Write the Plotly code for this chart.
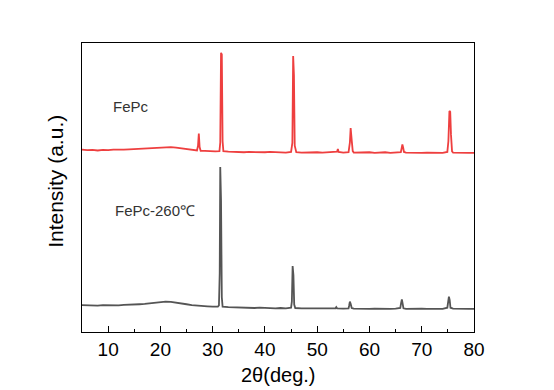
import plotly.graph_objects as go

# FePc (red) pattern: 2theta (deg) and intensity (a.u., offset)
fepc_2theta = [5.0, 6.0, 7.0, 8.0, 9.0, 10.0, 11.0, 12.0, 13.0, 14.0, 15.0, 16.0, 17.0, 18.0,
               19.0, 20.0, 21.0, 22.0, 23.0, 24.0, 25.0, 26.0, 27.0, 27.2, 27.35, 27.5, 27.7,
               28.5, 29.5, 30.5, 31.3, 31.45, 31.6, 31.75, 31.9, 32.05, 33.0, 34.0, 35.0, 36.0,
               37.0, 38.0, 39.0, 40.0, 41.0, 42.0, 43.0, 44.0, 45.0, 45.25, 45.4, 45.55, 45.7,
               45.85, 46.0, 47.0, 48.0, 49.0, 50.0, 51.0, 52.0, 53.0, 53.8, 53.95, 54.1, 55.0,
               56.0, 56.25, 56.4, 56.6, 56.8, 57.0, 58.0, 59.0, 60.0, 61.0, 62.0, 63.0, 64.0,
               65.0, 66.0, 66.15, 66.3, 66.45, 66.6, 67.0, 68.0, 69.0, 70.0, 71.0, 72.0, 73.0,
               74.0, 74.9, 75.1, 75.3, 75.45, 75.6, 75.8, 76.0, 77.0, 78.0, 79.0, 80.0]
fepc_int = [63.1, 62.9, 63.0, 62.8, 63.0, 62.9, 63.1, 63.0, 63.1, 63.2, 63.3, 63.4, 63.5, 63.7,
            63.9, 64.0, 64.1, 64.0, 63.8, 63.5, 63.2, 62.9, 62.8, 64.5, 68.7, 64.0, 62.7,
            62.7, 62.5, 62.5, 62.6, 65.5, 96.6, 96.0, 66.0, 62.6, 62.4, 62.3, 62.4, 62.2,
            62.3, 62.2, 62.3, 62.2, 62.3, 62.2, 62.2, 62.1, 62.3, 65.4, 95.5, 88.9, 64.5,
            62.4, 62.2, 62.1, 62.2, 62.1, 62.2, 62.1, 62.2, 62.1, 62.4, 63.3, 62.3, 62.1,
            62.2, 65.5, 70.6, 66.4, 62.6, 62.1, 62.2, 62.1, 62.2, 62.0, 62.1, 62.2, 62.0,
            62.1, 62.2, 63.5, 64.9, 63.8, 62.3, 62.1, 62.0, 62.1, 62.0, 62.1, 62.0, 62.1,
            62.0, 62.3, 66.0, 76.5, 76.2, 68.2, 62.5, 62.1, 62.0, 62.1, 62.0, 62.0]

# FePc-260 C (dark grey) pattern
fepc260_2theta = [5.0, 6.0, 7.0, 8.0, 9.0, 10.0, 11.0, 12.0, 13.0, 14.0, 15.0, 16.0, 17.0, 18.0,
                  19.0, 20.0, 21.0, 22.0, 23.0, 24.0, 25.0, 26.0, 27.0, 28.0, 29.0, 30.0, 31.0,
                  31.2, 31.35, 31.45, 31.6, 31.75, 31.9, 33.0, 34.0, 35.0, 36.0, 37.0, 38.0,
                  39.0, 40.0, 41.0, 42.0, 43.0, 44.0, 45.0, 45.15, 45.3, 45.45, 45.6, 45.8,
                  47.0, 48.0, 49.0, 50.0, 51.0, 52.0, 53.0, 53.5, 53.65, 53.8, 55.0, 56.0,
                  56.1, 56.25, 56.4, 56.6, 57.0, 58.0, 59.0, 60.0, 61.0, 62.0, 63.0, 64.0,
                  65.0, 65.9, 66.05, 66.2, 66.35, 66.5, 67.0, 68.0, 69.0, 70.0, 71.0, 72.0,
                  73.0, 74.0, 74.9, 75.05, 75.2, 75.35, 75.5, 76.0, 77.0, 78.0, 79.0, 80.0]
fepc260_int = [9.3, 9.2, 9.3, 9.1, 9.3, 9.2, 9.3, 9.2, 9.4, 9.4, 9.5, 9.6, 9.7, 9.9,
               10.1, 10.3, 10.5, 10.4, 10.2, 9.9, 9.6, 9.3, 9.1, 9.0, 8.9, 8.8, 8.8,
               9.2, 20.4, 57.1, 45.4, 12.0, 8.8, 8.6, 8.5, 8.5, 8.4, 8.4, 8.3,
               8.4, 8.3, 8.3, 8.2, 8.3, 8.2, 8.4, 10.5, 22.8, 19.7, 9.5, 8.3,
               8.2, 8.2, 8.1, 8.2, 8.1, 8.2, 8.1, 8.2, 8.6, 8.2, 8.1, 8.2,
               9.0, 10.5, 9.8, 8.3, 8.1, 8.0, 8.1, 8.0, 8.1, 8.0, 8.1, 8.0,
               8.1, 8.3, 10.0, 11.3, 9.8, 8.2, 8.0, 8.1, 8.0, 8.1, 8.0, 8.0,
               8.1, 8.0, 8.4, 10.5, 12.2, 11.0, 8.4, 8.1, 8.0, 8.1, 8.0, 8.0]

x_ticks = [10, 20, 30, 40, 50, 60, 70, 80]
labels = ["FePc", "FePc-260℃"]
FONT = "Arial, Liberation Sans, sans-serif"

fig = go.Figure()
fig.add_trace(go.Scatter(x=fepc_2theta, y=fepc_int, mode="lines",
                         line=dict(color="#EE3F3F", width=1.8), name=labels[0]))
fig.add_trace(go.Scatter(x=fepc260_2theta, y=fepc260_int, mode="lines",
                         line=dict(color="#555555", width=1.8), name=labels[1]))

fig.add_annotation(x=10.55, y=78.2, xref="x", yref="y", text=labels[0], showarrow=False,
                   xanchor="left", font=dict(family=FONT, size=15, color="#333333"))
fig.add_annotation(x=10.95, y=41.9, xref="x", yref="y", text=labels[1], showarrow=False,
                   xanchor="left", font=dict(family=FONT, size=15, color="#333333"))
# axis titles placed as text in paper coordinates
fig.add_annotation(x=-0.066, y=0.52, xref="paper", yref="paper", text="Intensity (a.u.)",
                   textangle=-90, showarrow=False, xanchor="center", yanchor="middle",
                   font=dict(family=FONT, size=21, color="black"))
fig.add_annotation(x=0.5, y=-0.149, xref="paper", yref="paper", text="2θ(deg.)",
                   showarrow=False, xanchor="center", yanchor="middle",
                   font=dict(family=FONT, size=20, color="black"))

fig.update_layout(
    width=546, height=382,
    margin=dict(l=74, r=80, t=35, b=58),
    paper_bgcolor="white", plot_bgcolor="white",
    showlegend=False,
    font=dict(family=FONT, color="black"),
    xaxis=dict(range=[5, 80], tickvals=x_ticks, ticks="inside", ticklen=6, tickwidth=1,
               tickcolor="black", showline=True, linecolor="black", linewidth=1.3, mirror=True,
               showgrid=False, zeroline=False, tickfont=dict(size=19),
               minor=dict(dtick=5, ticks="inside", ticklen=3, tickcolor="black", showgrid=False)),
    yaxis=dict(range=[0, 100], showticklabels=False, ticks="", showline=True, linecolor="black",
               linewidth=1.3, mirror=True, showgrid=False, zeroline=False),
)

fig.write_html("out.html")
